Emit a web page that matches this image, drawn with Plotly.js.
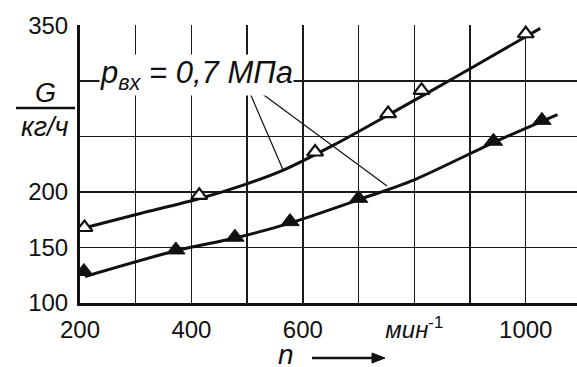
<!DOCTYPE html>
<html><head><meta charset="utf-8">
<script src="https://cdn.plot.ly/plotly-3.0.1.min.js"></script>
<style>html,body{margin:0;padding:0;background:#fff}</style>
</head><body><div id="chart" style="width:577px;height:367px"></div>
<script>
// data
const openN = [208, 414, 622, 753, 813, 1000];
const openG = [168, 197, 236, 270.6, 291.5, 342.5];
const fillN = [207, 372, 478, 577, 700, 942, 1029];
const fillG = [128.4, 147.8, 159.3, 173.3, 194.3, 245.7, 264.5];
const upperCurveN = [207, 308, 415, 493, 565, 655, 775, 882, 1026];
const upperCurveG = [167.6, 180.6, 194.1, 206.2, 219.7, 242.2, 275.5, 305.8, 347.4];
const lowerCurveN = [209, 372, 478, 577, 700, 800, 942, 1057];
const lowerCurveG = [123.9, 147, 158.5, 172, 193, 211, 244.5, 269.7];
const xTickVals = [200, 300, 400, 500, 600, 700, 800, 900, 1000];
const xTickText = ['200', '', '400', '', '600', '', '<i>мин</i><sup>-1</sup>', '', '1000'];
const yTickVals = [100, 150, 200, 250, 300, 350];
const yTickText = ['100', '150', '200', '', '', '350'];

const FONT = 'Liberation Sans, Arial, sans-serif';
const traces = [
  {x: upperCurveN, y: upperCurveG, mode: 'lines', line: {color: '#111', width: 3, shape: 'spline', smoothing: 0.8}, hoverinfo: 'skip'},
  {x: lowerCurveN, y: lowerCurveG, mode: 'lines', line: {color: '#111', width: 3, shape: 'spline', smoothing: 0.8}, hoverinfo: 'skip'},
  {x: openN, y: openG, mode: 'markers', marker: {symbol: 'triangle-up', size: 14, color: '#fff', line: {color: '#111', width: 2.2}}},
  {x: fillN, y: fillG, mode: 'markers', marker: {symbol: 'triangle-up', size: 16, color: '#111', line: {color: '#111', width: 1}}}
];
const layout = {
  width: 577, height: 367,
  margin: {l: 80, r: 0, t: 25, b: 64},
  paper_bgcolor: '#fff', plot_bgcolor: '#fff',
  showlegend: false,
  font: {family: FONT, color: '#111', size: 24},
  xaxis: {
    range: [200, 1092], tickvals: xTickVals, ticktext: xTickText,
    showgrid: true, gridcolor: '#1a1a1a', gridwidth: 1.5,
    showline: true, linecolor: '#111', linewidth: 3,
    zeroline: false, ticks: '', ticklabelstandoff: 3,
    tickfont: {family: FONT, size: 24, color: '#111'}
  },
  yaxis: {
    range: [100, 350.4], tickvals: yTickVals, ticktext: yTickText,
    showgrid: true, gridcolor: '#1a1a1a', gridwidth: 1.5,
    showline: true, linecolor: '#111', linewidth: 3,
    zeroline: false, ticks: '', ticklabelstandoff: 4,
    tickfont: {family: FONT, size: 24, color: '#111'}
  },
  shapes: [
    {type: 'line', xref: 'x', yref: 'y', x0: 500, y0: 295, x1: 564.5, y1: 219.7, line: {color: '#111', width: 1.2}},
    {type: 'line', xref: 'x', yref: 'y', x0: 509, y0: 295, x1: 751, y1: 205.3, line: {color: '#111', width: 1.2}},
    {type: 'line', xref: 'paper', yref: 'paper', x0: -64/497, x1: -5/497, y0: (367-64-108)/278, y1: (367-64-108)/278, line: {color: '#111', width: 2.5}},
    {type: 'line', xref: 'paper', yref: 'paper', x0: (312-80)/497, x1: (374-80)/497, y0: -(358-303)/278, y1: -(358-303)/278, line: {color: '#111', width: 2.5}},
    {type: 'path', xref: 'paper', yref: 'paper', path: 'M ' + ((372-80)/497) + ' ' + (-(353-303)/278) + ' L ' + ((385-80)/497) + ' ' + (-(358-303)/278) + ' L ' + ((372-80)/497) + ' ' + (-(363-303)/278) + ' Z', fillcolor: '#111', line: {color: '#111', width: 1}}
  ],
  annotations: [
    {xref: 'x', yref: 'y', x: 234, y: 305, xanchor: 'left', yanchor: 'middle', showarrow: false,
     text: '<i>p<sub>вх</sub> = 0,7 МПа</i>', font: {family: FONT, size: 31, color: '#111'}, bgcolor: '#fff', borderpad: 0},
    {xref: 'paper', yref: 'paper', x: -35/497, y: (367-64-93)/278, xanchor: 'center', yanchor: 'middle', showarrow: false,
     text: '<i>G</i>', font: {family: FONT, size: 27, color: '#111'}},
    {xref: 'paper', yref: 'paper', x: -35/497, y: (367-64-127)/278, xanchor: 'center', yanchor: 'middle', showarrow: false,
     text: '<i>кг/ч</i>', font: {family: FONT, size: 27, color: '#111'}},
    {xref: 'paper', yref: 'paper', x: (286-80)/497, y: -(354-303)/278, xanchor: 'center', yanchor: 'middle', showarrow: false,
     text: '<i>n</i>', font: {family: FONT, size: 28, color: '#111'}}
  ]
};
Plotly.newPlot('chart', traces, layout, {staticPlot: true, displayModeBar: false});
</script></body></html>
